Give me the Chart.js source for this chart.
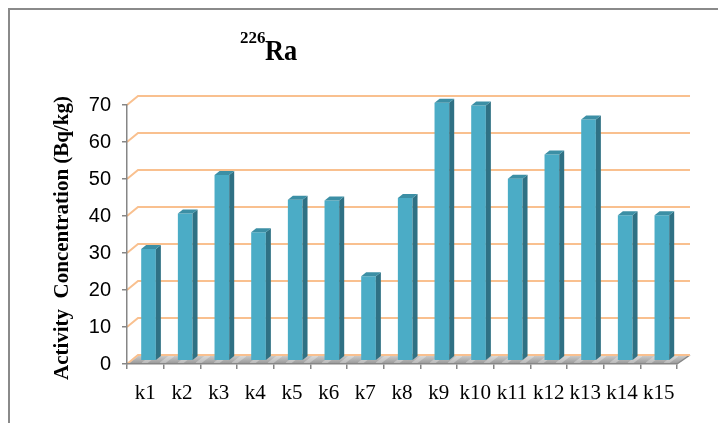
<!DOCTYPE html>
<html>
<head>
<meta charset="utf-8">
<script src="https://cdn.jsdelivr.net/npm/chart.js@4/dist/chart.umd.min.js"></script>
<style>
  html, body { margin: 0; padding: 0; background: #ffffff; }
  #wrap { width: 718px; height: 423px; position: relative; }
</style>
</head>
<body>
<div id="wrap"><canvas id="chart" width="718" height="423"></canvas></div>
<script>
// Sampling sites and measured 226Ra activity concentration (Bq/kg)
const sites = ['k1', 'k2', 'k3', 'k4', 'k5', 'k6', 'k7', 'k8', 'k9', 'k10', 'k11', 'k12', 'k13', 'k14', 'k15'];
const ra226 = [30.2, 39.8, 50.2, 34.7, 43.5, 43.3, 22.8, 44.0, 69.7, 69.0, 49.2, 55.7, 65.2, 39.3, 39.3];
const yTicks = [0, 10, 20, 30, 40, 50, 60, 70];

const titleMass = '226';
const titleElement = 'Ra';
const yAxisTitle = 'Activity  Concentration (Bq/kg)';

// Pseudo-3D geometry (pixels)
const WALL_DX_LEFT = 11, WALL_DX_RIGHT = 13, WALL_DY = -9;
const BAR_SHIFT_X = 3.2, BAR_SHIFT_Y = -3.3;
const BAR_DEPTH_X = 5, BAR_DEPTH_Y = -4;

const COLORS = {
  front: '#4BACC6',
  side: '#2F7184',
  top: '#3C8FA5',
  grid: '#F9C08F',
  axis: '#868686',
  frame: '#8A8A8A'
};

const box3d = {
  id: 'box3d',
  beforeDatasetsDraw(chart) {
    const { ctx, chartArea: a, scales: { y } } = chart;
    const yf = y.getPixelForValue(0);
    const yb = yf + WALL_DY;

    // floor
    ctx.save();
    ctx.beginPath();
    ctx.moveTo(a.left, yf);
    ctx.lineTo(a.right, yf);
    ctx.lineTo(a.right + WALL_DX_RIGHT, yb);
    ctx.lineTo(a.left + WALL_DX_LEFT, yb);
    ctx.closePath();
    const g = ctx.createLinearGradient(0, yb, 0, yf);
    g.addColorStop(0, '#cfcfcf');
    g.addColorStop(1, '#969696');
    ctx.fillStyle = g;
    ctx.fill();
    ctx.clip();
    // light diagonal streaks on the floor
    ctx.strokeStyle = 'rgba(255,255,255,0.3)';
    ctx.lineWidth = 4;
    for (let sx = a.left - 20; sx < a.right + 30; sx += 18) {
      ctx.beginPath();
      ctx.moveTo(sx, yf);
      ctx.lineTo(sx + 12, yb);
      ctx.stroke();
    }
    ctx.restore();

    // floor right edge
    ctx.save();
    ctx.strokeStyle = COLORS.axis;
    ctx.lineWidth = 1.5;
    ctx.beginPath();
    ctx.moveTo(a.right, yf);
    ctx.lineTo(a.right + WALL_DX_RIGHT, yb);
    ctx.stroke();

    // back-wall gridlines with side-wall connectors
    ctx.strokeStyle = COLORS.grid;
    ctx.lineWidth = 2;
    yTicks.forEach(v => {
      const py = y.getPixelForValue(v);
      ctx.beginPath();
      ctx.moveTo(a.left, py);
      ctx.lineTo(a.left + WALL_DX_LEFT, py + WALL_DY);
      ctx.lineTo(a.right + WALL_DX_RIGHT, py + WALL_DY);
      ctx.stroke();
    });
    ctx.restore();

    // bars sit in the middle of the depth
    ctx.save();
    ctx.translate(BAR_SHIFT_X, BAR_SHIFT_Y);
  },
  afterDatasetsDraw(chart) {
    const { ctx } = chart;
    const meta = chart.getDatasetMeta(0);
    meta.data.forEach(bar => {
      const p = bar.getProps(['x', 'y', 'base', 'width'], true);
      const l = p.x - p.width / 2, r = p.x + p.width / 2;
      const t = p.y, b = p.base;
      // side face
      ctx.beginPath();
      ctx.moveTo(r, t);
      ctx.lineTo(r + BAR_DEPTH_X, t + BAR_DEPTH_Y);
      ctx.lineTo(r + BAR_DEPTH_X, b + BAR_DEPTH_Y);
      ctx.lineTo(r, b);
      ctx.closePath();
      ctx.fillStyle = COLORS.side;
      ctx.fill();
      // top face
      ctx.beginPath();
      ctx.moveTo(l, t);
      ctx.lineTo(r, t);
      ctx.lineTo(r + BAR_DEPTH_X, t + BAR_DEPTH_Y);
      ctx.lineTo(l + BAR_DEPTH_X, t + BAR_DEPTH_Y);
      ctx.closePath();
      ctx.fillStyle = COLORS.top;
      ctx.fill();
    });
    ctx.restore();
  },
  afterDraw(chart) {
    const { ctx } = chart;
    ctx.save();
    // outer frame
    ctx.strokeStyle = COLORS.frame;
    ctx.lineWidth = 2;
    ctx.beginPath();
    ctx.moveTo(9, 423);
    ctx.lineTo(9, 9);
    ctx.lineTo(718, 9);
    ctx.stroke();

    // title with superscript mass number
    ctx.fillStyle = '#000';
    ctx.textBaseline = 'alphabetic';
    ctx.textAlign = 'left';
    ctx.font = 'bold 17px "Liberation Serif", "Times New Roman", serif';
    ctx.fillText(titleMass, 240, 43);
    ctx.save();
    ctx.translate(265, 60);
    ctx.scale(0.88, 1);
    ctx.font = 'bold 30px "Liberation Serif", "Times New Roman", serif';
    ctx.fillText(titleElement, 0, 0);
    ctx.restore();

    // vertical axis title
    ctx.save();
    ctx.translate(68, 238);
    ctx.rotate(-Math.PI / 2);
    ctx.textAlign = 'center';
    ctx.textBaseline = 'alphabetic';
    ctx.font = 'bold 21px "Liberation Serif", "Times New Roman", serif';
    ctx.fillText(yAxisTitle, 0, 0);
    ctx.restore();
    ctx.restore();
  }
};

new Chart(document.getElementById('chart'), {
  type: 'bar',
  data: {
    labels: sites,
    datasets: [{
      data: ra226,
      backgroundColor: COLORS.front,
      borderWidth: 0,
      barPercentage: 0.4,
      categoryPercentage: 1.0
    }]
  },
  options: {
    responsive: false,
    animation: false,
    devicePixelRatio: 1,
    layout: { padding: { left: 0, top: 105, right: 41, bottom: 0 } },
    plugins: { legend: { display: false }, tooltip: { enabled: false }, title: { display: false } },
    scales: {
      x: {
        grid: { display: true, drawOnChartArea: false, drawTicks: true, tickLength: 5, color: COLORS.axis, offset: true, lineWidth: 1.5 },
        border: { display: true, color: COLORS.axis, width: 1.5, z: 1 },
        ticks: {
          autoSkip: false, maxRotation: 0, minRotation: 0, color: '#000', padding: 12,
          font: { family: '"Liberation Serif", "Times New Roman", serif', size: 21 }
        },
        afterFit(scale) { scale.height = 423 - 364; }
      },
      y: {
        min: 0, max: 70,
        grid: { display: true, drawOnChartArea: false, drawTicks: true, tickLength: 5, color: COLORS.axis, lineWidth: 1.5 },
        border: { display: true, color: COLORS.axis, width: 1.5, z: 1 },
        ticks: {
          stepSize: 10, color: '#000', padding: 11,
          font: { family: '"Liberation Sans", Arial, sans-serif', size: 20 }
        },
        afterFit(scale) { scale.width = 127; }
      }
    }
  },
  plugins: [box3d]
});
</script>
</body>
</html>
